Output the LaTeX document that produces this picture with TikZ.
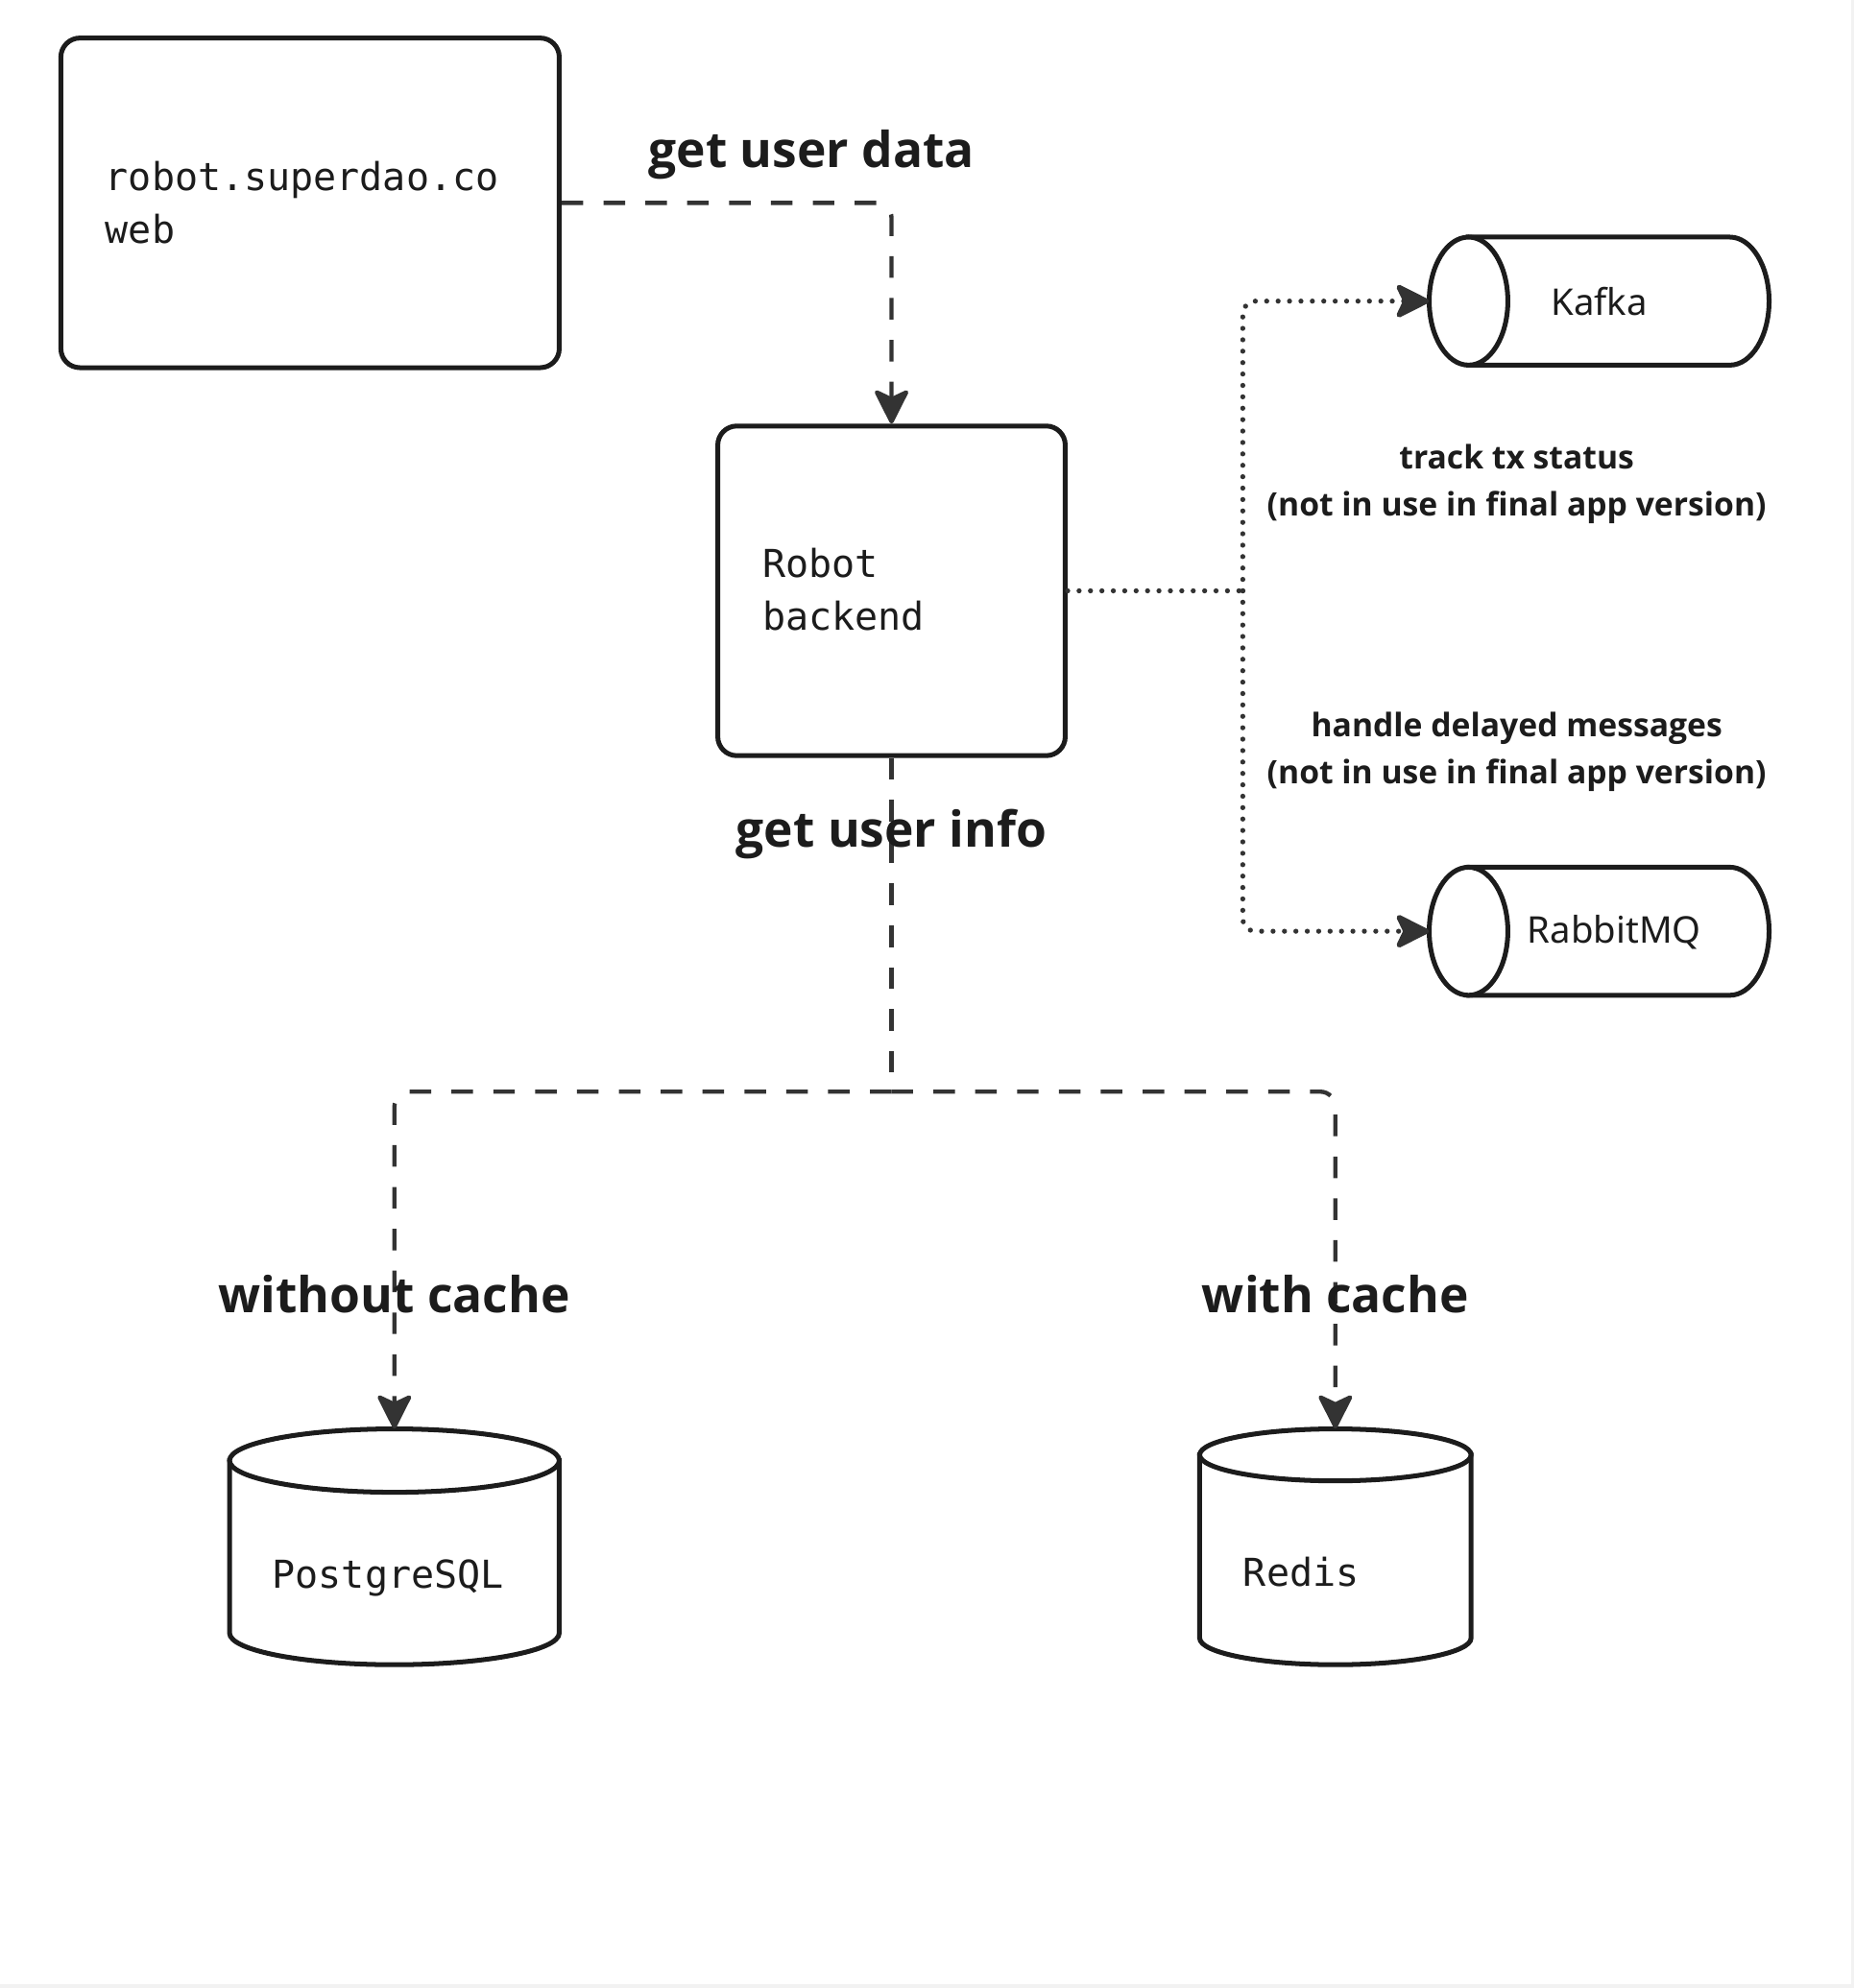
\documentclass[tikz,border=0pt]{standalone}
\usepackage{fontspec}
\setmainfont{Noto Sans}
\newfontfamily\labelfont{Open Sans}
\newfontfamily\monof{DejaVu Sans Mono}
\usetikzlibrary{arrows.meta}
\definecolor{ink}{HTML}{1C1C1C}
\definecolor{conn}{HTML}{333333}
\tikzset{
  boxshape/.style={draw=ink, line width=3.8pt, rounded corners=15pt, fill=white},
  cylline/.style={draw=ink, line width=3.8pt, fill=white},
  shapebox/.style={draw=none, inner sep=0pt},
  monotext/.style={font=\monof\fontsize{30.3}{42}\selectfont, text=ink, align=left, inner sep=0pt},
  sanstext/.style={font=\fontsize{29}{35}\selectfont, text=ink, inner sep=0pt},
  biglabel/.style={font=\labelfont\bfseries\fontsize{39}{46}\selectfont, text=ink, inner sep=0pt},
  smalllabel/.style={font=\labelfont\bfseries\fontsize{25.5}{37}\selectfont, text=ink, align=center, inner sep=0pt},
  dashconn/.style={draw=conn, line width=3.3pt, dash pattern=on 17pt off 16pt, rounded corners=12pt},
  dotconn/.style={draw=conn, line width=4pt, line cap=round, dash pattern=on 0pt off 9pt, rounded corners=10pt},
  tip/.style={-{Stealth[length=30pt, width=30pt, inset=7pt, round]}},
}
\begin{document}
\begin{tikzpicture}[x=1pt, y=-1pt]
% background
\fill[gray!10] (0,0) rectangle (1462,1568);
\fill[white] (0,0) rectangle (1460,1565);
\useasboundingbox (0,0) rectangle (1462,1568);

% web box
\node[boxshape, shapebox, draw=ink, minimum width=393pt, minimum height=260pt] (web) at (244.5,160) {};
\node[monotext, anchor=north west] (webt) at (83,127) {robot.superdao.co\\web};

% robot backend
\node[boxshape, shapebox, draw=ink, minimum width=274pt, minimum height=260pt] (backend) at (703,466) {};
\node[monotext, anchor=north west] (backendt) at (601,432) {Robot\\backend};

% Kafka (horizontal cylinder)
\node[shapebox, minimum width=268pt, minimum height=101pt] (kafka) at (1261,237.5) {};
\path[cylline] (1158,187) -- (1364,187) arc[start angle=-90, end angle=90, x radius=31, y radius=50.5] -- (1158,288) -- cycle;
\path[cylline] (1158,237.5) ellipse[x radius=31, y radius=50.5];
\node[sanstext] (kafkat) at (1261,238) {Kafka};

% RabbitMQ
\node[shapebox, minimum width=268pt, minimum height=101pt] (rabbit) at (1261,734.5) {};
\path[cylline] (1158,684) -- (1364,684) arc[start angle=-90, end angle=90, x radius=31, y radius=50.5] -- (1158,785) -- cycle;
\path[cylline] (1158,734.5) ellipse[x radius=31, y radius=50.5];
\node[sanstext] (rabbitt) at (1273,735) {RabbitMQ};

% PostgreSQL (vertical cylinder)
\node[shapebox, minimum width=260pt, minimum height=186pt] (pg) at (311,1220) {};
\path[cylline] (181,1152) -- (181,1288) arc[start angle=180, end angle=0, x radius=130, y radius=25] -- (441,1152) -- cycle;
\path[cylline] (311,1152) ellipse[x radius=130, y radius=25];
\node[monotext] (pgt) at (306,1245) {PostgreSQL};

% Redis
\node[shapebox, minimum width=214pt, minimum height=186pt] (redis) at (1053,1220) {};
\path[cylline] (946,1147.5) -- (946,1292) arc[start angle=180, end angle=0, x radius=107, y radius=21] -- (1160,1147.5) -- cycle;
\path[cylline] (1053,1147.5) ellipse[x radius=107, y radius=20.5];
\node[monotext] (redist) at (1026,1240) {Redis};

% connectors
\coordinate (split1) at (980,466);
\coordinate (split2) at (703,861);
\draw[dashconn, tip] (web.east) -| (backend.north);
\draw[dotconn] (backend.east) -- (split1);
\draw[dotconn, tip] (split1) |- (kafka.west);
\draw[dotconn, tip] (split1) |- (rabbit.west);
\draw[dashconn] (backend.south) -- (split2);
\draw[dashconn, tip] (split2) -| (pg.north);
\draw[dashconn, tip] (split2) -| (redis.north);

% labels
\node[biglabel] (l1) at (640,122) {get user data};
\node[biglabel] (l2) at (703,658) {get user info};
\node[biglabel] (l3) at (311,1021) {without cache};
\node[biglabel] (l4) at (1053,1021) {with cache};
\node[smalllabel] (l5) at (1196,382) {track tx status\\(not in use in final app version)};
\node[smalllabel] (l6) at (1196,593) {handle delayed messages\\(not in use in final app version)};
\end{tikzpicture}
\end{document}
